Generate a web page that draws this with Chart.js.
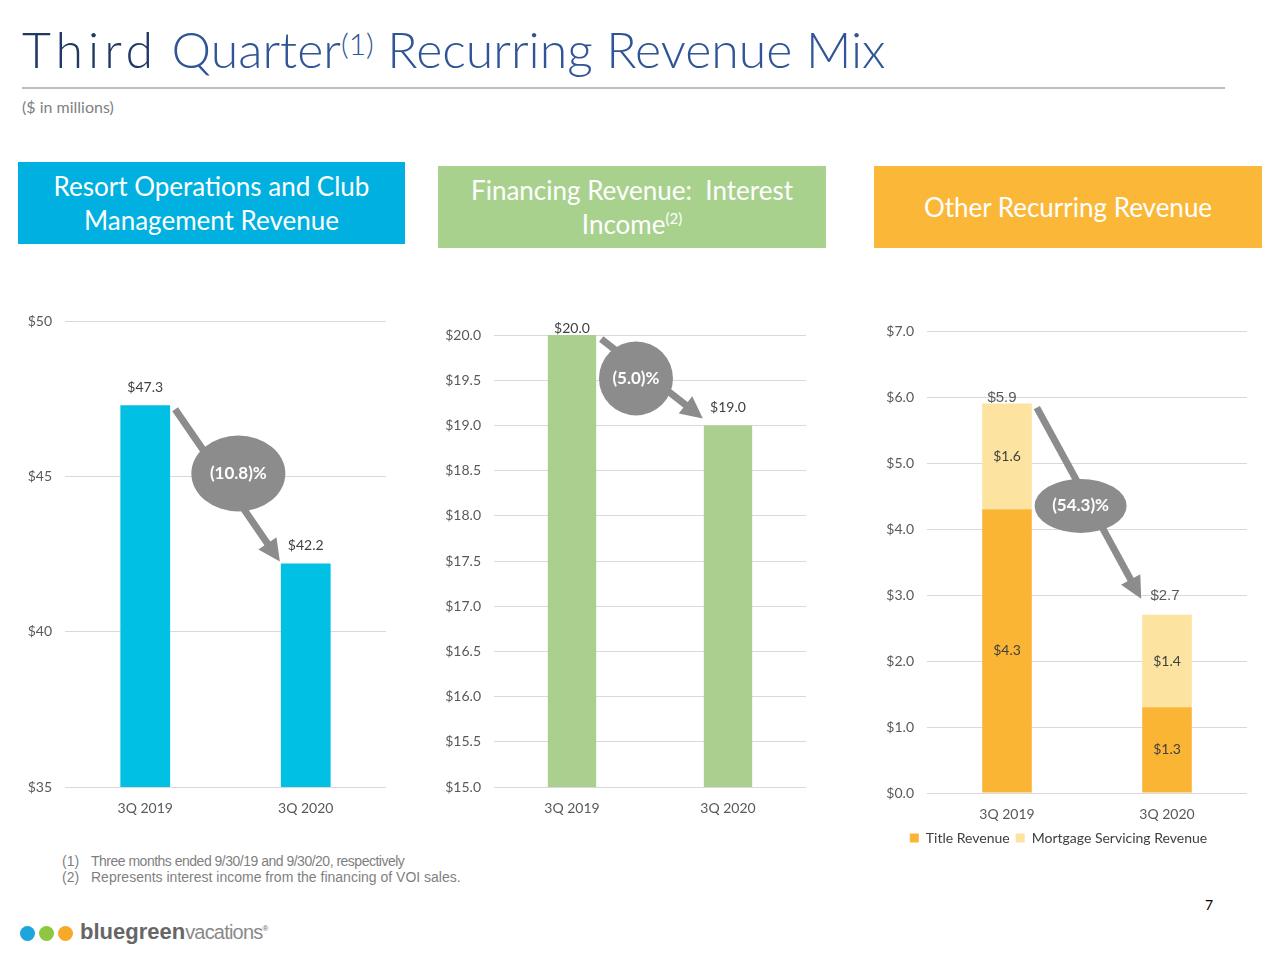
<!DOCTYPE html>
<html>
<head>
<meta charset="utf-8">
<script src="https://cdn.jsdelivr.net/npm/chart.js@4.4.1/dist/chart.umd.min.js"></script>
<style>
  html,body{margin:0;padding:0;background:#fff;}
  body{width:1280px;height:960px;position:relative;overflow:hidden;font-family:Lato,"Open Sans",sans-serif;}
  .abs{position:absolute;}
  #title{left:22px;top:18px;font-size:50px;font-weight:300;color:#2f5597;white-space:nowrap;line-height:62px;}
  #title .t1{color:#1f3864;letter-spacing:5px;}
  #title sup{font-size:30px;vertical-align:top;position:relative;top:-6px;}
  #rule{left:22px;top:87px;width:1203px;height:2px;background:#bdbdbd;}
  #units{left:22px;top:97px;font-size:16px;color:#7f7f7f;}
  .hdr{color:#fff;font-size:26px;text-align:center;display:flex;align-items:center;justify-content:center;line-height:34px;}
  .hdr sup{font-size:15px;vertical-align:top;position:relative;top:-6px;}
  .wrap{position:absolute;}
  #notes{left:62px;top:853px;font-family:"Liberation Sans",Arial,sans-serif;font-size:14px;color:#7f7f7f;line-height:16px;}
  #notes span{display:inline-block;width:29px;}
  #page{left:1205px;top:896px;font-size:14px;color:#000;}
  .dot{position:absolute;width:15px;height:15px;border-radius:50%;top:926px;}
  #logo{left:80px;top:919px;font-family:"Liberation Sans",Arial,sans-serif;font-size:22px;color:#666;}
</style>
</head>
<body>
<div id="title" class="abs"><span class="t1">Third</span> Quarter<sup>(1)</sup> Recurring Revenue Mix</div>
<div id="rule" class="abs"></div>
<div id="units" class="abs">($ in millions)</div>

<div class="abs hdr" style="left:18px;top:162px;width:387px;height:82px;background:#00b0e0;"><div>Resort Operations and Club<br>Management Revenue</div></div>
<div class="abs hdr" style="left:438px;top:166px;width:388px;height:82px;background:#a9d18e;"><div>Financing Revenue:&nbsp; Interest<br>Income<sup>(2)</sup></div></div>
<div class="abs hdr" style="left:874px;top:166px;width:388px;height:82px;background:#fbb838;"><div>Other Recurring Revenue</div></div>

<div class="wrap" style="left:15px;top:300px;width:375px;height:527px;"><canvas id="c1"></canvas></div>
<div class="wrap" style="left:435px;top:300px;width:375px;height:527px;"><canvas id="c2"></canvas></div>
<div class="wrap" style="left:870px;top:300px;width:381px;height:557px;"><canvas id="c3"></canvas></div>

<div id="notes" class="abs"><div><span>(1)</span><span style="width:auto;letter-spacing:-0.5px;">Three months ended 9/30/19 and 9/30/20, respectively</span></div><div><span>(2)</span><span style="width:auto;">Represents interest income from the financing of VOI sales.</span></div></div>
<div id="page" class="abs">7</div>
<div class="dot" style="left:20px;background:#1ea5dc;"></div>
<div class="dot" style="left:39px;background:#8dc63f;"></div>
<div class="dot" style="left:58px;background:#f8a92a;"></div>
<div id="logo" class="abs"><b>bluegreen</b><span style="color:#8a8a8a;font-size:20px;letter-spacing:-0.8px;">vacations</span><sup style="font-size:8px;">®</sup></div>

<script>
// dati
const categories = ["3Q 2019", "3Q 2020"];
const resortValues = [47.3, 42.2];
const financingValues = [20.0, 19.0];
const titleValues = [4.3, 1.3];
const mortgageValues = [1.6, 1.4];
const otherTotals = [5.9, 2.7];
const changeLabels = ["(10.8)%", "(5.0)%", "(54.3)%"];
const resortTicks = [35, 40, 45, 50];
const financingTicks = [15, 15.5, 16, 16.5, 17, 17.5, 18, 18.5, 19, 19.5, 20];
const otherTicks = [0, 1, 2, 3, 4, 5, 6, 7];

const tickFont = {family: "Lato", size: 14};
const tickColor = "#595959";
const gridColor = "#d9d9d9";

// etichette valori + freccia con ellisse
const notesPlugin = {
  id: "notes",
  afterDatasetsDraw(chart, args, o){
    const ctx = chart.ctx;
    const x = chart.scales.x, y = chart.scales.y;
    const metaTop = chart.getDatasetMeta(chart.data.datasets.length - 1);
    const b0 = metaTop.data[0], b1 = metaTop.data[1];
    ctx.save();
    // segment labels
    if(o.segments){
      ctx.font = "14px Lato";
      ctx.fillStyle = "#404040";
      ctx.textAlign = "center";
      ctx.textBaseline = "middle";
      chart.data.datasets.forEach((ds, di)=>{
        chart.getDatasetMeta(di).data.forEach((el, i)=>{
          ctx.fillText("$" + ds.data[i].toFixed(1), el.x, (el.y + el.base)/2);
        });
      });
    }
    // totals
    ctx.font = o.totalFont;
    ctx.fillStyle = o.totalColor;
    ctx.textAlign = "center";
    ctx.textBaseline = "middle";
    o.totals.forEach((v, i)=>{
      const el = metaTop.data[i];
      ctx.fillText("$" + v.toFixed(1), el.x + (o.totalDx[i]||0), el.y - o.totalDy[i]);
    });
    // arrow
    const sx = b0.x + b0.width/2 + 5, sy = b0.y + 4;
    const ex = b1.x - b1.width/2 - 1, ey = b1.y - o.tipDy;
    const ang = Math.atan2(ey - sy, ex - sx);
    const head = 22;
    ctx.strokeStyle = "#8c8c8c";
    ctx.fillStyle = "#8c8c8c";
    ctx.lineWidth = 7;
    ctx.beginPath();
    ctx.moveTo(sx, sy);
    ctx.lineTo(ex - Math.cos(ang)*head*0.8, ey - Math.sin(ang)*head*0.8);
    ctx.stroke();
    ctx.beginPath();
    ctx.moveTo(ex, ey);
    ctx.lineTo(ex - Math.cos(ang)*head + Math.sin(ang)*11, ey - Math.sin(ang)*head - Math.cos(ang)*11);
    ctx.lineTo(ex - Math.cos(ang)*head - Math.sin(ang)*11, ey - Math.sin(ang)*head + Math.cos(ang)*11);
    ctx.closePath();
    ctx.fill();
    // ellipse
    const cx = x.getPixelForValue(o.at[0]), cy = y.getPixelForValue(o.at[1]);
    ctx.beginPath();
    ctx.ellipse(cx, cy, o.rx, o.ry, 0, 0, Math.PI*2);
    ctx.fill();
    ctx.fillStyle = "#fff";
    ctx.font = "bold 17px Lato";
    ctx.fillText(o.text, cx, cy);
    ctx.restore();
  }
};

function makeChart(id, datasets, ticks, min, max, dec, yw, pt, xh, notes, legend){
  return new Chart(document.getElementById(id), {
    type: "bar",
    data: {labels: categories, datasets},
    options: {
      responsive: true,
      maintainAspectRatio: false,
      animation: false,
      layout: {padding: {top: pt, right: 4, left: 0, bottom: legend ? 2 : 0}},
      plugins: {
        legend: legend ? {
          display: true, position: "bottom",
          labels: {boxWidth: 9, boxHeight: 9, padding: 6, color: "#404040", font: {family: "Lato", size: 14}}
        } : {display: false},
        tooltip: {enabled: false},
        notes
      },
      datasets: {bar: {categoryPercentage: 1, barPercentage: 0.31}},
      scales: {
        x: {
          stacked: true,
          grid: {display: false},
          border: {display: false},
          ticks: {color: tickColor, font: tickFont, padding: 5},
          afterFit: s => { s.height = xh; }
        },
        y: {
          stacked: true,
          min, max,
          afterBuildTicks: s => { s.ticks = ticks.map(v => ({value: v})); },
          grid: {color: gridColor, drawTicks: false},
          border: {display: false},
          ticks: {color: tickColor, font: tickFont, padding: 13, callback: v => "$" + v.toFixed(dec)},
          afterFit: s => { s.width = yw; }
        }
      }
    },
    plugins: [notesPlugin]
  });
}

makeChart("c1",
  [{data: resortValues, backgroundColor: "#00c0e4"}],
  resortTicks, 35, 50, 0, 50, 20, 40,
  {totals: resortValues, totalDy: [18, 18], totalDx: [0, 0], totalFont: "14px Lato", totalColor: "#404040",
   tipDy: 2, at: [0.58, 45.1], rx: 47, ry: 38, text: changeLabels[0]}, false);

makeChart("c2",
  [{data: financingValues, backgroundColor: "#a9d08e"}],
  financingTicks, 15, 20, 1, 59, 35, 40,
  {totals: financingValues, totalDy: [7, 18], totalDx: [0, 0], totalFont: "14px Lato", totalColor: "#404040",
   tipDy: 7, at: [0.41, 19.52], rx: 37, ry: 37, text: changeLabels[1]}, false);

makeChart("c3",
  [{label: "Title Revenue", data: titleValues, backgroundColor: "#fbb534"},
   {label: "Mortgage Servicing Revenue", data: mortgageValues, backgroundColor: "#fde3a0"}],
  otherTicks, 0, 7, 1, 57, 31, 32,
  {segments: true, totals: otherTotals, totalDy: [6, 19], totalDx: [-5, -2], totalFont: "15px 'Liberation Sans'", totalColor: "#595959",
   tipDy: 16, at: [0.46, 4.35], rx: 46, ry: 27, text: changeLabels[2]}, true);
</script>
</body>
</html>
